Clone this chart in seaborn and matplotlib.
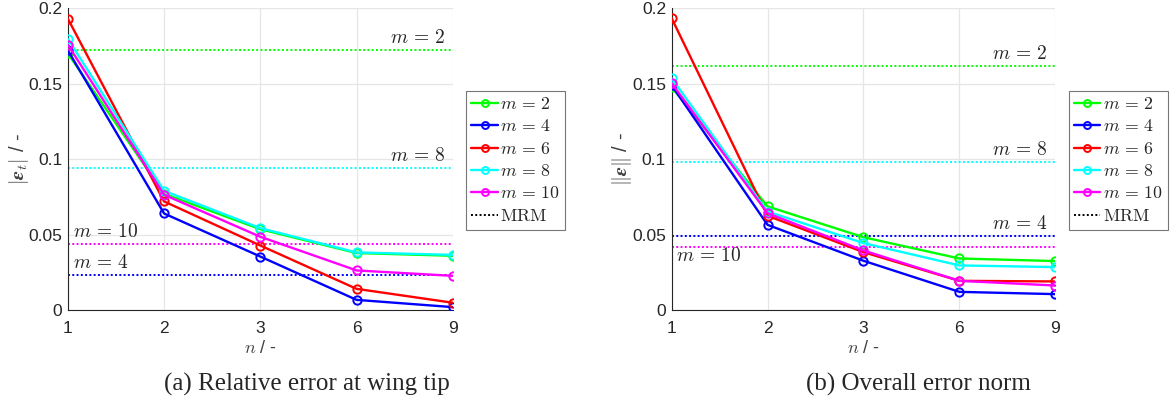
import matplotlib
matplotlib.use('Agg')
import matplotlib.pyplot as plt
import numpy as np
import seaborn as sns
from matplotlib.lines import Line2D

n_labels = ['1', '2', '3', '6', '9']
m_values = [2, 4, 6, 8, 10]
colors = ['#00ff00', '#0000ff', '#ff0000', '#00ffff', '#ff00ff']

# relative error at wing tip, rows = m
tip_err = [
    [0.170, 0.077, 0.0536, 0.0378, 0.0360],
    [0.172, 0.064, 0.0355, 0.0068, 0.0020],
    [0.193, 0.072, 0.0428, 0.0141, 0.0049],
    [0.1797, 0.079, 0.0543, 0.0382, 0.0366],
    [0.1757, 0.0764, 0.0486, 0.0263, 0.0227],
]
tip_mrm = [0.172, 0.0234, None, 0.0938, 0.0435]

# overall error norm
norm_err = [
    [0.1477, 0.0687, 0.0483, 0.0342, 0.0325],
    [0.149, 0.0565, 0.0327, 0.0121, 0.0106],
    [0.1934, 0.0625, 0.0384, 0.0194, 0.0190],
    [0.1536, 0.0653, 0.0444, 0.0296, 0.0285],
    [0.1503, 0.0642, 0.0395, 0.0194, 0.0163],
]
norm_mrm = [0.1614, 0.0488, None, 0.0978, 0.0415]

sns.set_style('whitegrid')
plt.rcParams['font.family'] = ['Liberation Sans', 'DejaVu Sans']
plt.rcParams['mathtext.fontset'] = 'cm'

fig = plt.figure(figsize=(11.7, 4.07), dpi=100)
ax1 = fig.add_axes([0.058, 0.238, 0.329, 0.742])
ax2 = fig.add_axes([0.574, 0.238, 0.328, 0.742])

xpos = np.arange(len(n_labels))


def mlab(m):
    return rf'$m\,=\,{m}$'


def draw_panel(ax, data, mrm, ylabel, notes):
    for m, c, mrm_v in zip(m_values, colors, mrm):
        if mrm_v is not None:
            ax.axhline(mrm_v, color=c, ls=(0, (1, 1.2)), lw=1.4, zorder=1)
    for vals, c in zip(data, colors):
        sns.lineplot(x=xpos, y=vals, ax=ax, color=c, lw=1.7, marker='o',
                     markersize=6, markerfacecolor='none', markeredgecolor=c,
                     markeredgewidth=1.4, zorder=3)
    for (xx, yy, m, ha) in notes:
        ax.text(xx, yy, mlab(m), ha=ha, va='bottom', fontsize=14)
    ax.set_xlim(0, 4)
    ax.set_ylim(0, 0.2)
    ax.set_xticks(xpos)
    ax.set_xticklabels(n_labels)
    ax.set_yticks([0, 0.05, 0.1, 0.15, 0.2])
    ax.set_yticklabels(['0', '0.05', '0.1', '0.15', '0.2'])
    ax.tick_params(axis='x', labelsize=12.5, colors='#262626', length=0, pad=8)
    ax.tick_params(axis='y', labelsize=12.5, colors='#262626', length=0, pad=4)
    ax.grid(True, color='#e6e6e6', lw=0.9)
    for s in ['top', 'right']:
        ax.spines[s].set_visible(False)
    for s in ['left', 'bottom']:
        ax.spines[s].set_color('#262626')
        ax.spines[s].set_linewidth(0.8)
    ax.set_xlabel(r'$n$ / -', fontsize=13, color='#404040', labelpad=3)
    ax.set_ylabel(ylabel, fontsize=14.5, color='#404040', va='center')
    ax.yaxis.set_label_coords(-0.128, 0.5)

    handles = [Line2D([], [], color=c, lw=1.7, marker='o', markersize=5,
                      markerfacecolor='none', markeredgewidth=1.4)
               for c in colors]
    handles.append(Line2D([], [], color='black', ls=(0, (1, 1.2)), lw=1.4))
    labels = [mlab(m) for m in m_values] + [r'$\mathrm{MRM}$']
    leg = ax.legend(handles, labels, loc='upper left', bbox_to_anchor=(1.035, 0.725),
                    fontsize=12.8, frameon=True, fancybox=False, handlelength=1.5,
                    handletextpad=0.12, labelspacing=0.3, borderpad=0.28,
                    borderaxespad=0)
    leg.get_frame().set_edgecolor('#555555')
    leg.get_frame().set_linewidth(0.8)


draw_panel(ax1, tip_err, tip_mrm, r'$|\boldsymbol{\epsilon}_t|$ / -',
           [(3.92, 0.1745, 2, 'right'), (3.92, 0.0960, 8, 'right'),
            (0.05, 0.0455, 10, 'left'), (0.05, 0.0255, 4, 'left')])
draw_panel(ax2, norm_err, norm_mrm, r'$\|\boldsymbol{\epsilon}\|$ / -',
           [(3.92, 0.1635, 2, 'right'), (3.92, 0.1000, 8, 'right'),
            (3.92, 0.0510, 4, 'right'), (0.05, 0.0300, 10, 'left')])

fig.text(0.262, 0.055, '(a) Relative error at wing tip', ha='center', va='center',
         fontsize=18, family=['Liberation Serif', 'DejaVu Serif'])
fig.text(0.785, 0.055, '(b) Overall error norm', ha='center', va='center',
         fontsize=18, family=['Liberation Serif', 'DejaVu Serif'])

fig.savefig('out.png', dpi=100)
